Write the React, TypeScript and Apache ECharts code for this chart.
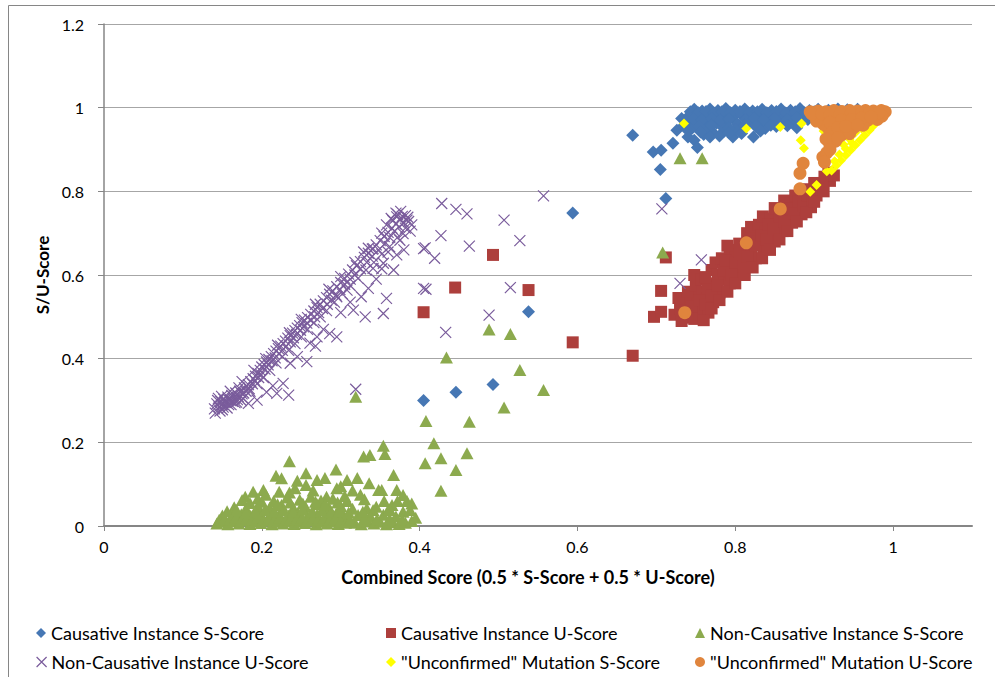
import React, { useEffect, useRef } from "react";
import * as echarts from "echarts";

const xTickValues = [0, 0.2, 0.4, 0.6, 0.8, 1];

const seriesNames = [
  "Causative Instance S-Score",
  "Causative Instance U-Score",
  "Non-Causative Instance S-Score",
  "Non-Causative Instance U-Score",
  '"Unconfirmed" Mutation S-Score',
  '"Unconfirmed" Mutation U-Score',
];

const causativeS = [
  [0.405, 0.3], [0.446, 0.32], [0.493, 0.338], [0.538, 0.512], [0.594, 0.748], [0.67, 0.934],
  [0.696, 0.894], [0.706, 0.898], [0.705, 0.852], [0.712, 0.783], [0.721, 0.915], [0.726, 0.946],
  [0.732, 0.974], [0.74, 0.93], [0.748, 0.922], [0.752, 0.905], [0.76, 0.936], [0.772, 0.94],
  [0.786, 0.944], [0.797, 0.93], [0.81, 0.951], [0.823, 0.93],
  [0.748, 0.996], [0.758, 0.992], [0.768, 0.997], [0.778, 0.993], [0.788, 0.998], [0.8, 0.994],
  [0.812, 0.997], [0.822, 0.992], [0.834, 0.996], [0.846, 0.993], [0.858, 0.997], [0.87, 0.994],
  [0.882, 0.998], [0.894, 0.993], [0.905, 0.996], [0.918, 0.994], [0.93, 0.997], [0.942, 0.995],
  [0.955, 0.996],
  [0.742, 0.982], [0.753, 0.978], [0.764, 0.984], [0.774, 0.979], [0.785, 0.983], [0.796, 0.977],
  [0.807, 0.984], [0.818, 0.98], [0.829, 0.985], [0.84, 0.978], [0.851, 0.983], [0.862, 0.979],
  [0.873, 0.985], [0.886, 0.98], [0.898, 0.984], [0.91, 0.981],
  [0.738, 0.966], [0.75, 0.962], [0.762, 0.968], [0.776, 0.963], [0.79, 0.967], [0.803, 0.961],
  [0.818, 0.966], [0.832, 0.962], [0.845, 0.968], [0.858, 0.963], [0.872, 0.967], [0.884, 0.972],
  [0.745, 0.95], [0.764, 0.952], [0.783, 0.955], [0.8, 0.948], [0.838, 0.95], [0.852, 0.955],
  [0.878, 0.952], [0.735, 0.958],
  [0.743, 0.99], [0.753, 0.988], [0.763, 0.991], [0.773, 0.987], [0.783, 0.99], [0.794, 0.988],
  [0.806, 0.991], [0.817, 0.987], [0.828, 0.99], [0.84, 0.988], [0.852, 0.991], [0.864, 0.987],
  [0.876, 0.99], [0.888, 0.988], [0.9, 0.99], [0.912, 0.988], [0.924, 0.99], [0.936, 0.989],
  [0.948, 0.99],
  [0.747, 0.973], [0.758, 0.971], [0.77, 0.974], [0.781, 0.97], [0.792, 0.973], [0.813, 0.972],
  [0.824, 0.975], [0.836, 0.971], [0.85, 0.974], [0.866, 0.972], [0.878, 0.976], [0.892, 0.972],
  [0.754, 0.955], [0.77, 0.958], [0.792, 0.952], [0.812, 0.958], [0.826, 0.955], [0.845, 0.958],
  [0.866, 0.957], [0.74, 0.945], [0.756, 0.942], [0.768, 0.93], [0.78, 0.932], [0.792, 0.94],
  [0.808, 0.938], [0.832, 0.944],
];

const causativeU = [
  [0.405, 0.511], [0.445, 0.57], [0.493, 0.648], [0.538, 0.564], [0.594, 0.439], [0.67, 0.407],
  [0.697, 0.5], [0.706, 0.512], [0.706, 0.562], [0.712, 0.642],
  [0.723, 0.505], [0.73, 0.52], [0.735, 0.498], [0.742, 0.51], [0.748, 0.495], [0.755, 0.505],
  [0.738, 0.535], [0.745, 0.548], [0.752, 0.53], [0.76, 0.52], [0.766, 0.51], [0.728, 0.545],
  [0.74, 0.56], [0.75, 0.575], [0.758, 0.56], [0.765, 0.545], [0.772, 0.535], [0.748, 0.6],
  [0.757, 0.59], [0.765, 0.58], [0.773, 0.57], [0.78, 0.558], [0.77, 0.612], [0.778, 0.6],
  [0.786, 0.59], [0.793, 0.58], [0.775, 0.63], [0.783, 0.64], [0.79, 0.625], [0.798, 0.612],
  [0.805, 0.6], [0.793, 0.66], [0.8, 0.65], [0.808, 0.638], [0.815, 0.625], [0.79, 0.67],
  [0.805, 0.675], [0.813, 0.665], [0.82, 0.65], [0.826, 0.64], [0.815, 0.7], [0.822, 0.69],
  [0.83, 0.675], [0.836, 0.662], [0.82, 0.715], [0.83, 0.72], [0.838, 0.705], [0.845, 0.69],
  [0.85, 0.68], [0.835, 0.74], [0.845, 0.735], [0.852, 0.72], [0.86, 0.705], [0.85, 0.76],
  [0.858, 0.75], [0.866, 0.738], [0.872, 0.725], [0.862, 0.778], [0.87, 0.77], [0.878, 0.755],
  [0.884, 0.745], [0.876, 0.79], [0.884, 0.785], [0.89, 0.772], [0.896, 0.762], [0.888, 0.805],
  [0.896, 0.8], [0.903, 0.79], [0.9, 0.82], [0.908, 0.812], [0.913, 0.835], [0.92, 0.825],
  [0.918, 0.845], [0.925, 0.838],
  [0.735, 0.515], [0.745, 0.525], [0.755, 0.54], [0.762, 0.53], [0.77, 0.55], [0.778, 0.575],
  [0.762, 0.595], [0.785, 0.61], [0.795, 0.6], [0.788, 0.635], [0.8, 0.63], [0.81, 0.62],
  [0.805, 0.655], [0.815, 0.645], [0.818, 0.68], [0.826, 0.67], [0.833, 0.695], [0.84, 0.685],
  [0.842, 0.72], [0.848, 0.71], [0.856, 0.74], [0.862, 0.728], [0.868, 0.76], [0.874, 0.748],
  [0.88, 0.775], [0.886, 0.765], [0.892, 0.79], [0.898, 0.78], [0.905, 0.805], [0.91, 0.82],
  [0.732, 0.49], [0.76, 0.492], [0.77, 0.52], [0.78, 0.54], [0.79, 0.56], [0.8, 0.58],
  [0.812, 0.6], [0.822, 0.618], [0.834, 0.64], [0.844, 0.66], [0.856, 0.685], [0.866, 0.705],
  [0.878, 0.728], [0.89, 0.75], [0.9, 0.775], [0.912, 0.8],
];

const nonCausativeS = [
  [0.73, 0.879], [0.758, 0.879], [0.708, 0.654], [0.488, 0.47], [0.515, 0.459], [0.434, 0.403],
  [0.527, 0.373], [0.557, 0.325], [0.507, 0.283], [0.463, 0.249], [0.408, 0.251], [0.418, 0.198],
  [0.427, 0.162], [0.407, 0.15], [0.46, 0.174], [0.446, 0.134], [0.427, 0.084], [0.319, 0.309],
  [0.354, 0.192], [0.356, 0.172], [0.367, 0.122], [0.352, 0.086], [0.371, 0.086], [0.379, 0.074],
  [0.235, 0.155], [0.218, 0.12], [0.225, 0.114], [0.256, 0.126], [0.294, 0.135], [0.28, 0.115],
  [0.308, 0.11], [0.321, 0.115], [0.329, 0.166], [0.337, 0.17], [0.336, 0.102], [0.348, 0.086],
  [0.39, 0.054], [0.308, 0.06], [0.235, 0.08], [0.256, 0.098], [0.202, 0.086], [0.189, 0.082],
  [0.179, 0.07], [0.295, 0.09], [0.282, 0.07], [0.333, 0.042], [0.341, 0.038], [0.379, 0.034],
  [0.388, 0.038],
  [0.143, 0.006], [0.15, 0.01], [0.157, 0.004], [0.164, 0.012], [0.171, 0.006], [0.178, 0.014],
  [0.185, 0.005], [0.192, 0.011], [0.199, 0.007], [0.206, 0.013], [0.213, 0.004], [0.22, 0.01],
  [0.227, 0.006], [0.234, 0.012], [0.241, 0.005], [0.248, 0.011], [0.255, 0.007], [0.262, 0.013],
  [0.269, 0.004], [0.276, 0.01], [0.283, 0.006], [0.29, 0.012], [0.297, 0.005], [0.318, 0.008],
  [0.326, 0.004], [0.334, 0.011], [0.342, 0.006], [0.35, 0.01], [0.358, 0.004], [0.366, 0.009],
  [0.374, 0.005], [0.382, 0.008],
  [0.15, 0.025], [0.162, 0.022], [0.174, 0.028], [0.186, 0.024], [0.198, 0.03], [0.21, 0.023],
  [0.222, 0.028], [0.234, 0.025], [0.246, 0.031], [0.258, 0.024], [0.27, 0.027], [0.282, 0.022],
  [0.294, 0.029], [0.304, 0.024], [0.322, 0.026], [0.338, 0.022], [0.354, 0.027], [0.37, 0.023],
  [0.165, 0.045], [0.18, 0.042], [0.195, 0.048], [0.21, 0.044], [0.225, 0.05], [0.24, 0.043],
  [0.255, 0.047], [0.27, 0.052], [0.285, 0.044], [0.3, 0.048], [0.315, 0.041], [0.345, 0.046],
  [0.365, 0.05],
  [0.175, 0.062], [0.195, 0.066], [0.215, 0.06], [0.232, 0.068], [0.248, 0.063], [0.262, 0.07],
  [0.275, 0.061], [0.29, 0.065], [0.305, 0.072], [0.33, 0.064],
  [0.146, 0.015], [0.153, 0.018], [0.16, 0.016], [0.167, 0.02], [0.174, 0.014], [0.181, 0.019],
  [0.188, 0.016], [0.195, 0.021], [0.202, 0.015], [0.209, 0.019], [0.216, 0.017], [0.223, 0.021],
  [0.23, 0.015], [0.237, 0.019], [0.244, 0.016], [0.251, 0.02], [0.258, 0.014], [0.265, 0.019],
  [0.272, 0.016], [0.279, 0.02], [0.286, 0.015], [0.293, 0.018], [0.3, 0.012], [0.306, 0.008],
  [0.312, 0.015], [0.33, 0.018], [0.346, 0.016], [0.362, 0.017], [0.378, 0.015], [0.39, 0.012],
  [0.156, 0.035], [0.168, 0.038], [0.18, 0.032], [0.192, 0.036], [0.204, 0.038], [0.216, 0.034],
  [0.228, 0.038], [0.24, 0.034], [0.252, 0.039], [0.264, 0.035], [0.276, 0.038], [0.288, 0.034],
  [0.298, 0.036], [0.31, 0.032], [0.328, 0.034], [0.36, 0.038],
  [0.185, 0.055], [0.2, 0.058], [0.22, 0.052], [0.236, 0.056], [0.252, 0.054], [0.268, 0.058],
  [0.28, 0.052], [0.296, 0.056], [0.205, 0.075], [0.222, 0.082], [0.242, 0.09], [0.265, 0.085],
  [0.245, 0.108], [0.27, 0.11], [0.3, 0.095], [0.315, 0.085], [0.325, 0.075], [0.355, 0.06],
  [0.362, 0.04], [0.372, 0.06], [0.384, 0.06], [0.395, 0.02],
];

const nonCausativeU = [
  [0.14, 0.28], [0.143, 0.292], [0.146, 0.285], [0.148, 0.298], [0.15, 0.29], [0.152, 0.303],
  [0.155, 0.295], [0.157, 0.308], [0.16, 0.3], [0.162, 0.312], [0.165, 0.305], [0.167, 0.318],
  [0.17, 0.31], [0.172, 0.322], [0.175, 0.316], [0.178, 0.33], [0.18, 0.322], [0.183, 0.338],
  [0.186, 0.345], [0.189, 0.352], [0.192, 0.358], [0.195, 0.365], [0.198, 0.372], [0.2, 0.38],
  [0.203, 0.386], [0.206, 0.392], [0.209, 0.398], [0.212, 0.405], [0.215, 0.412], [0.218, 0.418],
  [0.221, 0.424], [0.224, 0.43], [0.227, 0.436], [0.23, 0.442], [0.233, 0.449], [0.236, 0.455],
  [0.239, 0.461], [0.242, 0.467], [0.245, 0.473], [0.248, 0.479], [0.251, 0.486], [0.254, 0.492],
  [0.258, 0.498], [0.262, 0.506], [0.266, 0.514], [0.27, 0.522], [0.274, 0.53], [0.278, 0.538],
  [0.282, 0.546], [0.286, 0.554], [0.29, 0.562], [0.295, 0.572], [0.3, 0.582], [0.305, 0.592],
  [0.31, 0.602], [0.315, 0.612], [0.32, 0.622], [0.325, 0.632], [0.33, 0.642], [0.335, 0.652],
  [0.34, 0.662], [0.345, 0.672], [0.35, 0.682], [0.355, 0.692], [0.36, 0.702], [0.365, 0.712],
  [0.37, 0.722], [0.375, 0.732], [0.378, 0.74],
  [0.15, 0.278], [0.158, 0.29], [0.168, 0.296], [0.176, 0.305], [0.185, 0.322], [0.194, 0.34],
  [0.202, 0.355], [0.21, 0.372], [0.218, 0.39], [0.226, 0.405], [0.234, 0.42], [0.242, 0.436],
  [0.25, 0.452], [0.258, 0.47], [0.266, 0.486], [0.274, 0.5], [0.282, 0.515], [0.292, 0.535],
  [0.302, 0.555], [0.312, 0.575], [0.322, 0.592], [0.332, 0.612], [0.342, 0.63], [0.352, 0.65],
  [0.362, 0.668], [0.372, 0.69], [0.382, 0.712], [0.386, 0.728],
  [0.145, 0.305], [0.16, 0.322], [0.175, 0.345], [0.19, 0.372], [0.205, 0.4], [0.22, 0.432],
  [0.235, 0.462], [0.25, 0.494], [0.268, 0.53], [0.285, 0.566], [0.3, 0.596], [0.318, 0.63],
  [0.335, 0.664], [0.352, 0.7], [0.366, 0.73], [0.372, 0.745], [0.382, 0.742],
  [0.227, 0.341], [0.219, 0.317], [0.234, 0.313], [0.194, 0.301], [0.183, 0.293], [0.257, 0.393],
  [0.236, 0.389], [0.27, 0.452], [0.286, 0.46], [0.295, 0.452], [0.261, 0.437], [0.316, 0.516],
  [0.331, 0.5], [0.354, 0.508], [0.358, 0.544], [0.335, 0.568], [0.308, 0.564], [0.295, 0.548],
  [0.341, 0.616], [0.354, 0.628], [0.367, 0.612], [0.371, 0.648], [0.375, 0.683], [0.379, 0.699],
  [0.329, 0.655], [0.341, 0.663], [0.405, 0.663], [0.405, 0.568], [0.319, 0.327],
  [0.206, 0.32], [0.214, 0.335], [0.245, 0.405], [0.268, 0.43], [0.278, 0.47], [0.3, 0.51],
  [0.312, 0.535], [0.326, 0.548], [0.345, 0.59], [0.352, 0.615], [0.36, 0.655], [0.38, 0.66],
  [0.428, 0.771], [0.446, 0.757], [0.46, 0.746], [0.557, 0.789], [0.507, 0.731], [0.427, 0.694],
  [0.407, 0.665], [0.419, 0.64], [0.463, 0.669], [0.527, 0.682], [0.408, 0.566], [0.515, 0.57],
  [0.488, 0.504], [0.433, 0.463], [0.384, 0.731], [0.371, 0.739],
  [0.707, 0.758], [0.757, 0.636], [0.73, 0.58],
  [0.141, 0.27], [0.144, 0.3], [0.147, 0.275], [0.149, 0.31], [0.151, 0.284], [0.153, 0.296],
  [0.156, 0.282], [0.158, 0.302], [0.161, 0.29], [0.163, 0.298], [0.166, 0.295], [0.169, 0.302],
  [0.171, 0.33], [0.174, 0.3], [0.177, 0.318], [0.181, 0.335], [0.184, 0.328], [0.188, 0.34],
  [0.191, 0.348], [0.196, 0.355], [0.199, 0.362], [0.204, 0.375], [0.208, 0.385], [0.213, 0.395],
  [0.217, 0.402], [0.222, 0.412], [0.226, 0.42], [0.231, 0.43], [0.236, 0.44], [0.24, 0.45],
  [0.244, 0.458], [0.249, 0.468], [0.253, 0.476], [0.257, 0.485], [0.262, 0.492], [0.267, 0.5],
  [0.272, 0.51], [0.277, 0.52], [0.283, 0.53], [0.288, 0.54], [0.294, 0.552], [0.299, 0.565],
  [0.305, 0.578], [0.312, 0.59], [0.318, 0.6], [0.325, 0.615], [0.333, 0.63], [0.34, 0.645],
  [0.348, 0.66], [0.356, 0.675], [0.362, 0.69], [0.368, 0.705], [0.374, 0.715], [0.38, 0.725],
  [0.358, 0.72], [0.364, 0.735], [0.37, 0.748], [0.376, 0.752], [0.385, 0.738], [0.39, 0.72],
  [0.388, 0.705],
];

const unconfirmedS = [
  [0.735, 0.962], [0.814, 0.95], [0.857, 0.954], [0.884, 0.962], [0.883, 0.922], [0.887, 0.903],
  [0.912, 0.944], [0.895, 0.799], [0.903, 0.815], [0.916, 0.848], [0.922, 0.85], [0.928, 0.862],
  [0.934, 0.874], [0.94, 0.886], [0.946, 0.898], [0.952, 0.91], [0.958, 0.922], [0.964, 0.934],
  [0.97, 0.946], [0.975, 0.957], [0.98, 0.968], [0.985, 0.978], [0.988, 0.988], [0.933, 0.926],
  [0.937, 0.912], [0.945, 0.925], [0.952, 0.94], [0.96, 0.95], [0.968, 0.962], [0.976, 0.975],
  [0.926, 0.872], [0.932, 0.888], [0.94, 0.902], [0.948, 0.915],
];

const unconfirmedU = [
  [0.736, 0.51], [0.814, 0.677], [0.857, 0.758], [0.882, 0.806], [0.882, 0.843], [0.886, 0.867],
  [0.911, 0.882], [0.916, 0.892], [0.92, 0.91], [0.924, 0.93], [0.918, 0.95], [0.907, 0.975],
  [0.895, 0.99], [0.905, 0.992], [0.915, 0.99], [0.925, 0.993], [0.935, 0.991], [0.945, 0.993],
  [0.955, 0.992], [0.965, 0.993], [0.975, 0.992], [0.985, 0.993], [0.99, 0.99], [0.9, 0.982],
  [0.912, 0.978], [0.928, 0.975], [0.94, 0.978], [0.952, 0.98], [0.964, 0.982], [0.976, 0.983],
  [0.986, 0.98], [0.93, 0.96], [0.942, 0.962], [0.955, 0.966], [0.968, 0.97], [0.98, 0.972],
  [0.928, 0.945], [0.938, 0.948], [0.95, 0.952], [0.962, 0.958], [0.935, 0.935], [0.945, 0.938],
  [0.927, 0.92], [0.912, 0.96], [0.903, 0.968],
  [0.897, 0.985], [0.91, 0.985], [0.92, 0.982], [0.933, 0.985], [0.947, 0.986], [0.96, 0.987],
  [0.97, 0.987], [0.982, 0.988], [0.92, 0.965], [0.935, 0.97], [0.948, 0.972], [0.96, 0.975],
  [0.972, 0.978], [0.922, 0.94], [0.93, 0.952], [0.94, 0.955], [0.955, 0.958], [0.915, 0.925],
  [0.93, 0.928], [0.92, 0.9], [0.913, 0.87],
];

const COLORS = ["#4677B4", "#AD3F3C", "#8CAA4E", "#7A5C9C", "#FFFF00", "#E0853D"];
const X_PATH = "path://M0 0L10 10M10 0L0 10";

export default function App() {
  const ref = useRef<HTMLDivElement>(null);

  useEffect(() => {
    if (!ref.current) return;
    const chart = echarts.init(ref.current, undefined, { renderer: "svg" });
    const font = "Lato, 'Open Sans', sans-serif";
    const legendCommon = {
      orient: "horizontal",
      padding: 0,
      itemGap: 0,
      itemWidth: 10,
      itemHeight: 10,
      selectedMode: false,
      textStyle: { fontFamily: font, fontSize: 18, color: "#000" },
    };
    const legendPos = [
      [36, 624], [386, 624], [695, 624],
      [36, 653], [386, 653], [695, 653],
    ];
    const legendItem = (i: number) => {
      if (i === 3) {
        return {
          name: seriesNames[i],
          icon: X_PATH,
          itemStyle: { color: "rgba(0,0,0,0)", borderColor: COLORS[3], borderWidth: 1.2 },
        };
      }
      return { name: seriesNames[i] };
    };
    const option = {
      animation: false,
      backgroundColor: "#fff",
      graphic: [
        {
          type: "rect",
          shape: { x: 8.5, y: 5.5, width: 1000, height: 700 },
          style: { fill: "none", stroke: "#868686", lineWidth: 1 },
          silent: true,
          z: -10,
        },
      ],
      grid: { left: 104, right: 23, top: 24, bottom: 151, containLabel: false },
      legend: legendPos.map((p, i) => ({
        ...legendCommon,
        left: p[0],
        top: p[1],
        data: [legendItem(i)],
      })),
      xAxis: {
        type: "value",
        min: 0,
        max: 1.1,
        interval: 0.2,
        name: "Combined Score (0.5 * S-Score + 0.5 * U-Score)",
        nameLocation: "middle",
        nameGap: 42,
        nameTextStyle: {
          fontFamily: font,
          fontSize: 18,
          fontWeight: "bold",
          color: "#000",
          padding: [0, 20, 0, 0],
        },
        axisLine: { show: true, lineStyle: { color: "#868686", width: 2 } },
        axisTick: {
          show: true,
          inside: false,
          length: 5,
          lineStyle: { color: "#868686" },
          customValues: xTickValues,
        },
        axisLabel: {
          customValues: xTickValues,
          margin: 12,
          fontFamily: font,
          fontSize: 16,
          color: "#000",
        },
        splitLine: { show: false },
      },
      yAxis: {
        type: "value",
        min: 0,
        max: 1.2,
        interval: 0.2,
        name: "S/U-Score",
        nameLocation: "middle",
        nameRotate: 90,
        nameGap: 41,
        nameTextStyle: { fontFamily: font, fontSize: 17, fontWeight: "bold", color: "#000" },
        axisLine: { show: true, lineStyle: { color: "#868686", width: 1.5 } },
        axisTick: { show: true, inside: false, length: 6, lineStyle: { color: "#868686" } },
        axisLabel: { margin: 20, fontFamily: font, fontSize: 16, color: "#000" },
        splitLine: { show: true, lineStyle: { color: "#A6A6A6", width: 1.2 } },
      },
      series: [
        {
          name: seriesNames[0],
          type: "scatter",
          data: causativeS,
          symbol: "diamond",
          symbolSize: 13,
          itemStyle: { color: COLORS[0], opacity: 1 },
        },
        {
          name: seriesNames[1],
          type: "scatter",
          data: causativeU,
          symbol: "rect",
          symbolSize: 12,
          itemStyle: { color: COLORS[1], opacity: 1 },
        },
        {
          name: seriesNames[2],
          type: "scatter",
          data: nonCausativeS,
          symbol: "triangle",
          symbolSize: [13, 12],
          itemStyle: { color: COLORS[2], opacity: 1 },
        },
        {
          name: seriesNames[3],
          type: "scatter",
          data: nonCausativeU,
          symbol: X_PATH,
          symbolSize: 11,
          itemStyle: {
            color: "rgba(0,0,0,0)",
            borderColor: COLORS[3],
            borderWidth: 1.2,
            opacity: 1,
          },
        },
        {
          name: seriesNames[4],
          type: "scatter",
          data: unconfirmedS,
          symbol: "diamond",
          symbolSize: 10,
          itemStyle: { color: COLORS[4], opacity: 1 },
        },
        {
          name: seriesNames[5],
          type: "scatter",
          data: unconfirmedU,
          symbol: "circle",
          symbolSize: 13,
          itemStyle: { color: COLORS[5], opacity: 1 },
        },
      ],
    };
    chart.setOption(option as any);
    return () => chart.dispose();
  }, []);

  return (
    <div
      ref={ref}
      style={{ position: "fixed", left: 0, top: 0, width: 995, height: 677, background: "#fff" }}
    />
  );
}
